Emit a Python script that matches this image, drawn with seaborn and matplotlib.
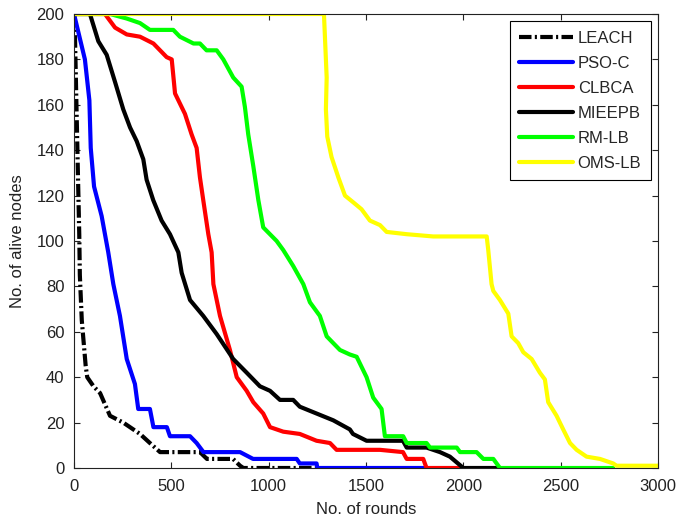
import matplotlib
matplotlib.use("Agg")
import matplotlib.pyplot as plt
import seaborn as sns
import pandas as pd

# ---- data ----
leach_x = [0, 5, 10, 15, 20, 27, 30, 40, 50, 60, 68, 100, 134, 185, 253, 339, 390, 442, 647, 683, 817, 853, 870, 1250]
leach_y = [200, 190, 170, 150, 130, 103, 85, 65, 55, 45, 40, 36, 33, 23, 20, 15, 11, 7, 7, 4, 4, 1, 0, 0]

psoc_x = [0, 56, 79, 86, 103, 142, 176, 202, 236, 271, 313, 330, 390, 408, 477, 493, 596, 630, 665, 853, 920, 1144, 1160, 1246, 1250, 1800]
psoc_y = [200, 180, 162, 141, 124, 111, 95, 81, 67, 48, 37, 26, 26, 18, 18, 14, 14, 11, 7, 7, 4, 4, 2, 2, 0, 0]

clbca_x = [0, 159, 211, 271, 339, 408, 476, 502, 519, 570, 604, 630, 647, 664, 690, 707, 716, 750, 801, 836, 887, 921, 972, 1007, 1075, 1160, 1246, 1315, 1349, 1572, 1690, 1709, 1794, 1811, 1980]
clbca_y = [200, 200, 194, 191, 190, 187, 181, 180, 165, 156, 147, 141, 128, 118, 103, 95, 81, 67, 52, 40, 34, 29, 24, 18, 16, 15, 12, 11, 8, 8, 7, 4, 4, 0, 0]

mieepb_x = [0, 82, 125, 168, 211, 253, 288, 322, 356, 373, 407, 450, 493, 536, 553, 596, 664, 733, 818, 887, 955, 1007, 1058, 1126, 1160, 1246, 1332, 1417, 1433, 1503, 1690, 1709, 1811, 1880, 1931, 2000, 2171]
mieepb_y = [200, 200, 188, 182, 170, 158, 150, 144, 136, 127, 118, 109, 103, 95, 86, 74, 67, 59, 48, 42, 36, 34, 30, 30, 27, 24, 21, 17, 15, 12, 12, 9, 9, 7, 5, 0, 0]

rmlb_x = [0, 185, 271, 339, 390, 510, 544, 614, 647, 681, 733, 767, 818, 861, 878, 895, 921, 947, 972, 1041, 1075, 1126, 1178, 1212, 1263, 1298, 1366, 1417, 1452, 1503, 1537, 1580, 1597, 1691, 1709, 1811, 1829, 1966, 1983, 2068, 2103, 2154, 2188, 2770]
rmlb_y = [200, 200, 198, 196, 193, 193, 190, 187, 187, 184, 184, 180, 172, 168, 159, 147, 133, 118, 106, 100, 96, 89, 81, 73, 67, 58, 52, 50, 49, 40, 31, 26, 14, 14, 11, 11, 9, 9, 7, 7, 4, 4, 0, 0]

omslb_x = [0, 1284, 1289, 1298, 1294, 1301, 1323, 1358, 1392, 1435, 1477, 1520, 1572, 1606, 1709, 1845, 2120, 2128, 2145, 2154, 2188, 2231, 2248, 2282, 2308, 2351, 2393, 2419, 2436, 2479, 2513, 2548, 2582, 2633, 2702, 2770, 2787, 3000]
omslb_y = [200, 200, 190, 172, 158, 146, 137, 128, 120, 117, 114, 109, 107, 104, 103, 102, 102, 96, 81, 78, 74, 68, 58, 55, 51, 48, 42, 39, 29, 23, 17, 11, 8, 5, 4, 2, 1, 1]

series_names = ["LEACH", "PSO-C", "CLBCA", "MIEEPB", "RM-LB", "OMS-LB"]
series_x = [leach_x, psoc_x, clbca_x, mieepb_x, rmlb_x, omslb_x]
series_y = [leach_y, psoc_y, clbca_y, mieepb_y, rmlb_y, omslb_y]
colors = ["black", "#0000ff", "#ff0000", "black", "#00ff00", "#ffff00"]
styles = [(0, (3, 0.8, 0.5, 0.8)), "-", "-", "-", "-", "-"]

x_ticks = [0, 500, 1000, 1500, 2000, 2500, 3000]
y_ticks = list(range(0, 201, 20))

sns.set_style("ticks")
plt.rcParams["font.family"] = ["Liberation Sans", "DejaVu Sans"]

FS = 12
fig = plt.figure(figsize=(6.99, 5.18), dpi=100)
ax = fig.add_axes([74 / 699, 1 - 468 / 518, (658 - 74) / 699, (468 - 14) / 518])

for name, xs, ys, c, ls in zip(series_names, series_x, series_y, colors, styles):
    df = pd.DataFrame({"x": xs, "y": ys})
    sns.lineplot(data=df, x="x", y="y", ax=ax, color=c, linewidth=3,
                 linestyle=ls, label=name, sort=False, estimator=None)

ax.set_xlim(0, 3000)
ax.set_ylim(0, 200)
ax.set_xticks(x_ticks)
ax.set_yticks(y_ticks)
ax.tick_params(direction="in", length=4, width=0.8, top=True, right=True,
               labelsize=FS, colors="#222222")
ax.tick_params(axis="x", pad=8)
ax.tick_params(axis="y", pad=7)
for s in ax.spines.values():
    s.set_visible(True)
    s.set_linewidth(0.8)
    s.set_color("#222222")
ax.set_xlabel("No. of rounds", fontsize=FS, color="#222222", labelpad=6)
ax.set_ylabel("No. of alive nodes", fontsize=FS, color="#222222", labelpad=8)

leg = ax.legend(loc="upper right", frameon=True, fancybox=False, edgecolor="black",
                framealpha=1, fontsize=FS, handlelength=3.2, handletextpad=0.3,
                labelspacing=0.6, borderpad=0.55, borderaxespad=0.45)
leg.get_frame().set_linewidth(0.8)

fig.savefig("out.png", dpi=100)
